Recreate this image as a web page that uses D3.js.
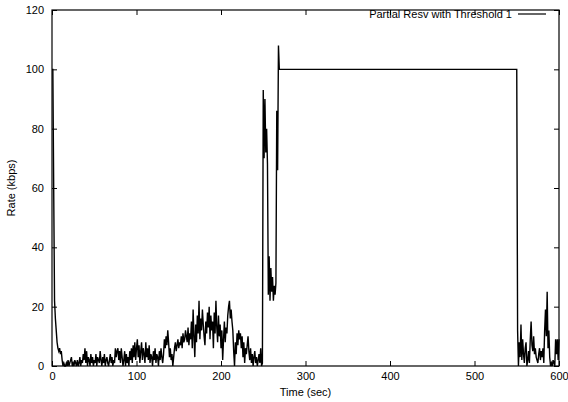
<!DOCTYPE html>
<html>
<head>
<meta charset="utf-8">
<script src="https://cdn.jsdelivr.net/npm/d3@7"></script>
<style>
  body { margin: 0; background: #fff; }
  text { font-family: "Liberation Sans", Arial, Helvetica, sans-serif; font-size: 11px; fill: #000; }
</style>
</head>
<body>
<div id="viz"></div>
<script>
// rate samples (kbps), one per second starting at t = 0
const rateEarly = [
    100, 100, 60, 22, 16, 12, 8, 6, 5, 6,
    4, 5, 2, 0, 1, 0, 0, 1, 0, 2,
    0, 1, 2, 3, 0, 1, 0, 2, 1, 0,
    2, 0, 1, 3, 0, 2, 1, 4, 2, 6,
    1, 5, 0, 3, 2, 0, 4, 1, 3, 0,
    2, 1, 4, 0, 3, 2, 1, 5, 2, 0,
    3, 1, 4, 0, 2, 3, 1, 0, 2, 4,
    1, 3, 0, 2, 1, 6, 3, 5, 6, 2,
    5, 1, 6, 3, 0, 2, 5, 0, 4, 1,
    3, 0, 5, 2, 6, 1, 7, 3, 8, 2,
    6, 9, 3, 7, 1, 5, 8, 2, 6, 4,
    1, 8, 3, 6, 2, 7, 1, 4, 3, 0,
    5, 2, 6, 1, 4, 3, 0, 5, 2, 6,
    3, 1, 4, 9, 6, 10, 7, 12, 8, 3,
    6, 2, 4, 0, 3, 6, 8, 5, 7, 9,
    6, 8, 7, 10, 6, 11, 8, 9, 12, 10,
    8, 13, 7, 11, 9, 15, 6, 19, 10, 3,
    14, 8, 17, 11, 22, 9, 16, 12, 19, 14,
    10, 7, 15, 11, 18, 13, 20, 9, 17, 12,
    15, 6, 18, 11, 22, 13, 8, 17, 10, 14,
    6, 12, 2, 9, 15, 8, 13, 11, 17, 20,
    22, 16, 19, 15, 12, 5, 0, 8, 4, 11,
    7, 12, 9, 11, 6, 10, 3, 8, 1, 6,
    4, 7, 10, 5, 2, 6, 1, 4, 0, 3,
    5, 1, 3, 0, 2, 4, 1, 6, 0, 1,
    93, 70, 90, 72, 80, 68, 24, 37, 22, 33,
    25, 30, 22, 27, 24, 28, 86, 66, 108, 100
];
// flat reservation period
const plateauTimes = [270, 550];
const plateauRate = 100;
// rate samples from t = 551 to 600
const lateStart = 551;
const rateLate = [
    12, 0, 8, 3, 14, 2, 9, 4, 1, 6,
    8, 0, 2, 5, 1, 9, 15, 7, 5, 10,
    4, 6, 3, 2, 1, 4, 6, 2, 5, 3,
    6, 1, 12, 19, 10, 25, 6, 12, 3, 0,
    1, 0, 2, 1, 0, 9, 4, 9, 2, 9
];
const xTicks = [0, 100, 200, 300, 400, 500, 600];
const yTicks = [0, 20, 40, 60, 80, 100, 120];
const seriesName = "Partial Resv with Threshold 1";

const points = [];
rateEarly.forEach((v, i) => points.push([i, v]));
plateauTimes.forEach(t => points.push([t, plateauRate]));
rateLate.forEach((v, i) => points.push([lateStart + i, v]));

const width = 568, height = 402;
const margin = {left: 52, right: 9, top: 10, bottom: 36};

const svg = d3.select('#viz').append('svg')
    .attr('width', width)
    .attr('height', height);

const x = d3.scaleLinear().domain([0, 600]).range([margin.left, width - margin.right]);
const y = d3.scaleLinear().domain([0, 120]).range([height - margin.bottom, margin.top]);

const tick = 5;

// bottom and top axes
svg.append('g')
    .attr('transform', `translate(0,${y(0)})`)
    .call(d3.axisBottom(x).tickValues(xTicks).tickSizeInner(-tick).tickSizeOuter(0).tickPadding(6))
    .call(g => g.select('.domain').remove());
svg.append('g')
    .attr('transform', `translate(0,${y(120)})`)
    .call(d3.axisTop(x).tickValues(xTicks).tickSizeInner(-tick).tickSizeOuter(0).tickFormat(''))
    .call(g => g.select('.domain').remove());

// left and right axes
svg.append('g')
    .attr('transform', `translate(${x(0)},0)`)
    .call(d3.axisLeft(y).tickValues(yTicks).tickSizeInner(-tick).tickSizeOuter(0).tickPadding(8))
    .call(g => g.select('.domain').remove());
svg.append('g')
    .attr('transform', `translate(${x(600)},0)`)
    .call(d3.axisRight(y).tickValues(yTicks).tickSizeInner(-tick).tickSizeOuter(0).tickFormat(''))
    .call(g => g.select('.domain').remove());

svg.selectAll('.tick text')
    .style('font-family', '"Liberation Sans", Arial, sans-serif')
    .style('font-size', '11px')
    .attr('fill', '#000');
svg.selectAll('.tick line').attr('stroke', '#000');

// frame
svg.append('rect')
    .attr('x', x(0)).attr('y', y(120))
    .attr('width', x(600) - x(0)).attr('height', y(0) - y(120))
    .attr('fill', 'none').attr('stroke', '#000').attr('stroke-width', 1.2);

const line = d3.line().x(d => x(d[0])).y(d => y(d[1]));

svg.append('path')
    .datum(points)
    .attr('d', line)
    .attr('fill', 'none')
    .attr('stroke', '#000')
    .attr('stroke-width', 1.4)
    .attr('stroke-linejoin', 'miter');

// legend
svg.append('text')
    .attr('x', 512).attr('y', 18)
    .attr('text-anchor', 'end')
    .text(seriesName);
svg.append('line')
    .attr('x1', 518).attr('x2', 546)
    .attr('y1', 14).attr('y2', 14)
    .attr('stroke', '#000').attr('stroke-width', 1.2);

// axis titles
svg.append('text')
    .attr('x', (x(0) + x(600)) / 2).attr('y', 396)
    .attr('text-anchor', 'middle')
    .text('Time (sec)');
svg.append('text')
    .attr('transform', `translate(15,${(y(0) + y(120)) / 2}) rotate(-90)`)
    .attr('text-anchor', 'middle')
    .text('Rate (kbps)');
</script>
</body>
</html>
